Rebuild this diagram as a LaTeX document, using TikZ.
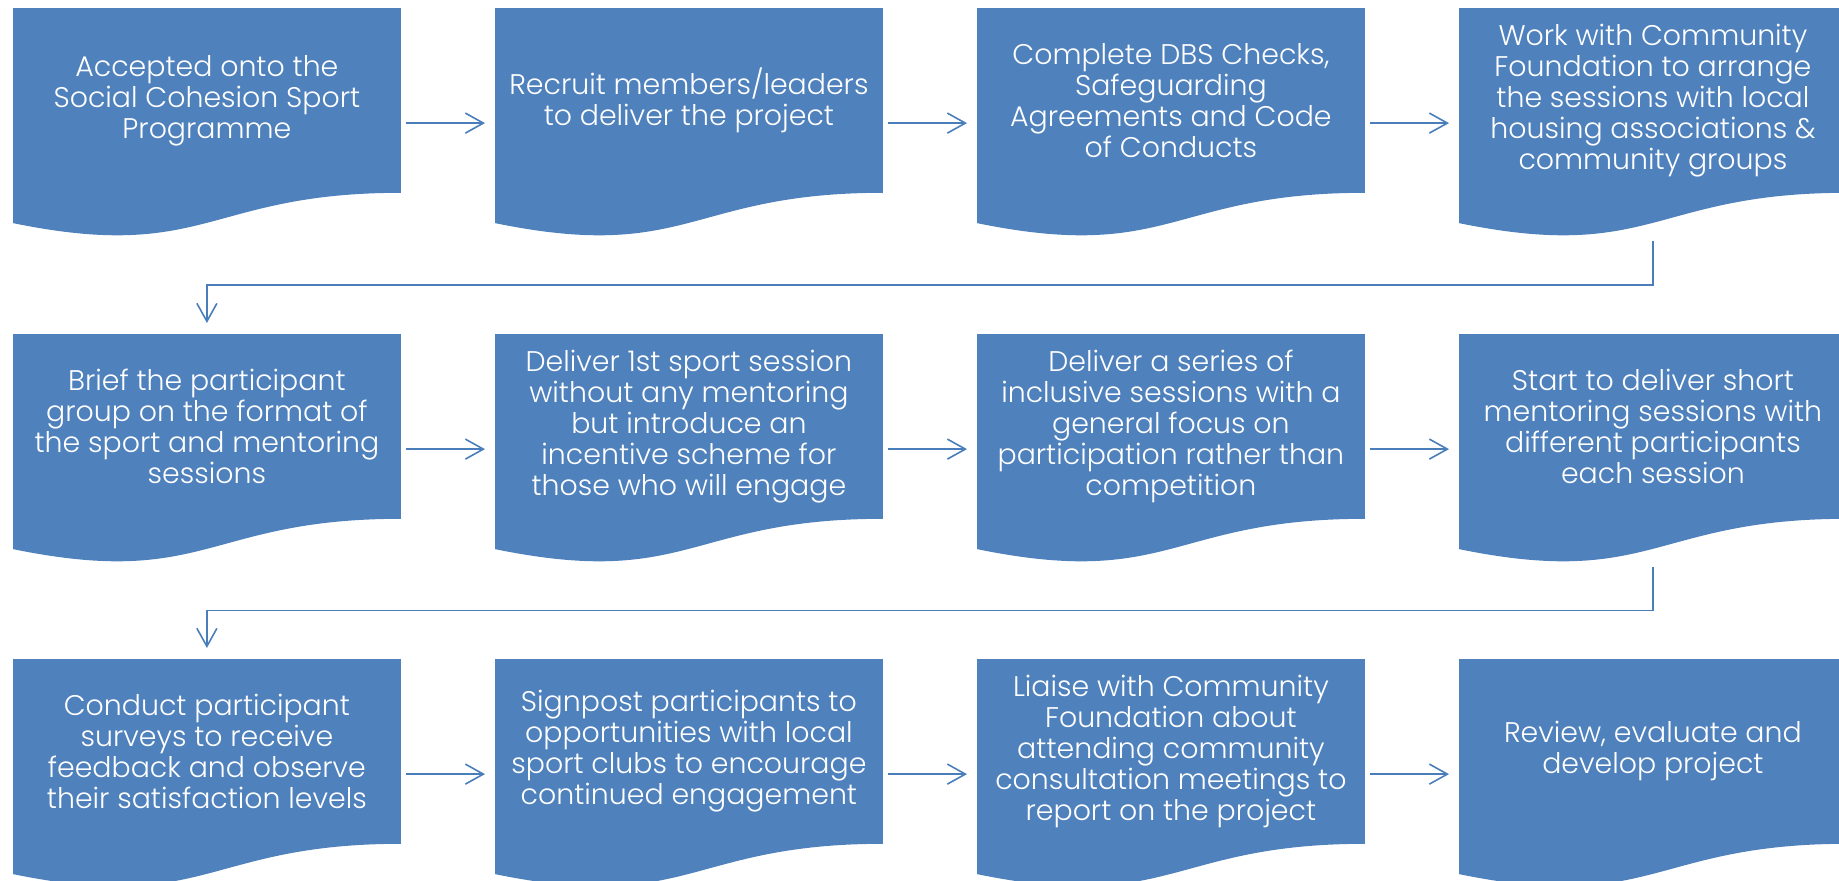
\documentclass[tikz,border=0pt]{standalone}
\usepackage{fontspec}
\IfFontExistsTF{Poppins Light}{\setmainfont{Poppins Light}}{\setmainfont{Poppins}}
\usetikzlibrary{arrows.meta, backgrounds}

\definecolor{boxblue}{HTML}{4F81BD}
\definecolor{lineblue}{HTML}{4A7EBB}

\tikzset{
  stepbox/.style={minimum width=193.5pt, minimum height=92pt, inner sep=0pt,
    text=white, align=center, font=\fontsize{14.2}{15.5}\selectfont},
  flow/.style={draw=lineblue, line width=0.8pt,
    -{Straight Barb[length=9pt, width=10pt]}},
}

\begin{document}
\begin{tikzpicture}[x=0.5pt, y=-0.5pt]
  \useasboundingbox (0,0) rectangle (1839,880);

  % Steps, row by row (top left corners in px)
  \foreach \n/\x/\y/\txt in {
    1/13/8/{Accepted onto the\\Social Cohesion Sport\\Programme},
    2/495/8/{Recruit members/leaders\\to deliver the project},
    3/977/8/{Complete DBS Checks,\\Safeguarding\\Agreements and Code\\of Conducts},
    4/1459/8/{Work with Community\\Foundation to arrange\\the sessions with local\\housing associations \&\\community groups},
    5/13/334/{Brief the participant\\group on the format of\\the sport and mentoring\\sessions},
    6/495/334/{Deliver 1st sport session\\without any mentoring\\but introduce an\\incentive scheme for\\those who will engage},
    7/977/334/{Deliver a series of\\inclusive sessions with a\\general focus on\\participation rather than\\competition},
    8/1459/334/{Start to deliver short\\mentoring sessions with\\different participants\\each session},
    9/13/659/{Conduct participant\\surveys to receive\\feedback and observe\\their satisfaction levels},
    10/495/659/{Signpost participants to\\opportunities with local\\sport clubs to encourage\\continued engagement},
    11/977/659/{Liaise with Community\\Foundation about\\attending community\\consultation meetings to\\report on the project},
    12/1459/659/{Review, evaluate and\\develop project}} {
    \node[stepbox, anchor=north west] (s\n) at (\x,\y) {\txt};
  }

  % Document shapes with the wavy bottom edge
  \begin{scope}[on background layer]
    \foreach \n in {1,...,12}
      \fill[boxblue] (s\n.north west) -- (s\n.north east) -- (s\n.south east)
        .. controls (s\n.south) and ([yshift=-35pt]s\n.south)
        .. ([yshift=-15.15pt]s\n.south west) -- cycle;
  \end{scope}

  % Arrows along each row
  \foreach \a/\b in {1/2, 2/3, 3/4, 5/6, 6/7, 7/8, 9/10, 10/11, 11/12}
    \draw[flow, shorten <=2.5pt, shorten >=5pt]
      ([yshift=-11.35pt]s\a.east) -- ([yshift=-11.35pt]s\b.west);

  % Return to the start of the next row
  \draw[flow, shorten >=5.5pt]
    ([yshift=-24.2pt]s4.south) |- ([yshift=24.5pt]s5.north) -- (s5.north);
  \draw[flow, shorten >=5.5pt]
    ([yshift=-24.2pt]s8.south) |- ([yshift=24.2pt]s9.north) -- (s9.north);
\end{tikzpicture}
\end{document}
